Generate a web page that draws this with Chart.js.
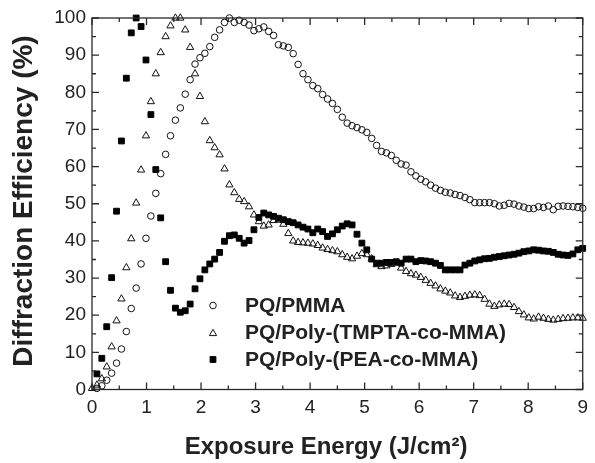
<!DOCTYPE html>
<html><head><meta charset="utf-8">
<script src="https://cdn.jsdelivr.net/npm/chart.js@4.4.0/dist/chart.umd.min.js"></script>
<style>html,body{margin:0;padding:0;background:#fff;}canvas{display:block;}</style>
</head><body>
<canvas id="c" width="595" height="463"></canvas>
<script>
// Exposure energy sampling grid (J/cm²)
const energy = [0, 0.09, 0.18, 0.27, 0.36, 0.45, 0.54, 0.63, 0.72, 0.81, 0.9, 0.99, 1.08, 1.17, 1.26, 1.35, 1.44, 1.53, 1.62, 1.71, 1.8, 1.89, 1.98, 2.07, 2.16, 2.25, 2.34, 2.43, 2.52, 2.61, 2.7, 2.79, 2.88, 2.97, 3.06, 3.15, 3.24, 3.33, 3.42, 3.51, 3.6, 3.69, 3.78, 3.87, 3.96, 4.05, 4.14, 4.23, 4.32, 4.41, 4.5, 4.59, 4.68, 4.77, 4.86, 4.95, 5.04, 5.13, 5.22, 5.31, 5.4, 5.49, 5.58, 5.67, 5.76, 5.85, 5.94, 6.03, 6.12, 6.21, 6.3, 6.39, 6.48, 6.57, 6.66, 6.75, 6.84, 6.93, 7.02, 7.11, 7.2, 7.29, 7.38, 7.47, 7.56, 7.65, 7.74, 7.83, 7.92, 8.01, 8.1, 8.19, 8.28, 8.37, 8.46, 8.55, 8.64, 8.73, 8.82, 8.91, 9.0];

// Diffraction efficiency (%) for each series, aligned with energy
const pmma = [null,
  0.3, 1.0, 2.5, 4.4, 7.1, 10.9, 15.6, 21.8, 27.3, 33.8,
  40.7, 46.7, 52.8, 58.1, 63.3, 68.3, 72.5, 75.8, 79.5, 83.4,
  87.6, 89.3, 90.5, 92.3, 94.8, 96.8, 98.8, 100.0, 98.8, 99.4,
  98.8, 98.1, 96.6, 97.1, 97.6, 96.4, 95.3, 92.8, 92.5, 92.1,
  90.4, 87.5, 85.0, 83.4, 81.8, 81.0, 79.4, 78.2, 77.0, 75.4,
  73.3, 71.7, 71.0, 70.5, 69.9, 69.2, 67.6, 65.7, 64.1, 63.7,
  63.0, 61.7, 60.7, 60.4, 58.6, 57.5, 56.6, 55.9, 55.0, 54.2,
  53.6, 53.1, 52.9, 52.5, 52.2, 51.7, 51.1, 50.3, 50.3, 50.3,
  50.3, 50.0, 49.4, 49.6, 50.1, 49.9, 49.4, 49.1, 48.7, 48.7,
  49.2, 49.0, 49.4, 48.4, 49.3, 49.4, 49.3, 49.2, 49.0, 48.8];

const tmpta = [0.3,
  1.2, 2.9, 6.1, 11.5, 18.5, 24.4, 32.8, 40.6, 50.2, 59.1,
  68.3, 77.5, 85.0, 90.7, 95.0, 97.9, 100.0, 100.0, 96.8, 92.1,
  85.0, 78.9, 72.1, 67.0, 65.1, 63.2, 59.4, 55.1, 53.0, 51.2,
  50.6, 49.2, 47.0, 45.2, 44.0, 44.3, 45.5, 45.6, 44.5, 42.0,
  40.0, 39.6, 39.5, 39.4, 39.2, 38.8, 38.1, 37.7, 37.4, 37.1,
  36.3, 35.6, 35.2, 35.9, 36.6, 36.3, 35.2, 33.6, 33.1, 33.3,
  33.7, 34.0, 32.7, 31.8, 31.2, 30.8, 30.2, 29.4, 28.6, 27.9,
  27.1, 26.5, 26.0, 25.2, 24.8, 25.1, 25.4, 25.5, 25.3, 24.3,
  23.0, 22.4, 22.8, 23.0, 22.9, 22.1, 21.0, 20.1, 19.3, 19.0,
  19.5, 19.2, 18.9, 18.7, 18.9, 19.1, 19.2, 19.3, 19.3, 19.2];

const pea = [null,
  4.2, 8.4, 16.9, 30.1, 48.0, 66.9, 83.8, 96.0, 100.0, 97.7,
  88.7, 74.0, 59.2, 46.2, 34.4, 26.7, 21.9, 20.8, 21.2, 23.0,
  27.1, 29.8, 32.2, 33.8, 35.1, 36.9, 39.9, 41.4, 41.6, 40.7,
  39.4, 40.1, 43.0, 46.3, 47.5, 47.0, 46.6, 46.1, 45.7, 45.2,
  44.9, 44.3, 43.7, 43.2, 42.2, 43.2, 42.5, 41.2, 41.9, 43.0,
  44.0, 44.6, 44.3, 41.8, 39.4, 37.6, 35.1, 34.0, 34.0, 34.2,
  34.2, 34.4, 34.0, 35.1, 35.1, 34.4, 34.7, 34.6, 34.4, 34.0,
  33.4, 32.2, 32.2, 32.2, 32.2, 33.5, 34.0, 34.6, 34.9, 35.2,
  35.3, 35.6, 35.8, 36.0, 36.2, 36.4, 36.7, 37.1, 37.3, 37.6,
  37.5, 37.3, 37.2, 36.9, 36.4, 36.2, 36.1, 36.5, 37.6, 38.0];

const seriesLabels = ['PQ/PMMA', 'PQ/Poly-(TMPTA-co-MMA)', 'PQ/Poly-(PEA-co-MMA)'];
const xTickValues = [0, 1, 2, 3, 4, 5, 6, 7, 8, 9];
const yTickValues = [0, 10, 20, 30, 40, 50, 60, 70, 80, 90, 100];
const xTitle = 'Exposure Energy (J/cm²)';
const yTitle = 'Diffraction Efficiency (%)';

function toPoints(vals) {
  const out = [];
  vals.forEach((v, i) => { if (v !== null) out.push({x: energy[i], y: v}); });
  return out;
}

const INK = '#222';
const FONT = '"Liberation Sans", Arial, sans-serif';

const framePlugin = {
  id: 'frame',
  afterDatasetsDraw(chart) {
    const ctx = chart.ctx, a = chart.chartArea;
    const xs = chart.scales.x, ys = chart.scales.y;
    ctx.save();
    ctx.strokeStyle = '#2a2a2a';
    ctx.lineWidth = 1.3;
    ctx.strokeRect(a.left, a.top, a.right - a.left, a.bottom - a.top);
    ctx.beginPath();
    const MAJ = 7, MIN = 4;
    xTickValues.forEach((v, i) => {
      const p = xs.getPixelForValue(v);
      ctx.moveTo(p, a.bottom); ctx.lineTo(p, a.bottom - MAJ);
      ctx.moveTo(p, a.top); ctx.lineTo(p, a.top + MAJ);
      if (i < xTickValues.length - 1) {
        const m = xs.getPixelForValue((v + xTickValues[i + 1]) / 2);
        ctx.moveTo(m, a.bottom); ctx.lineTo(m, a.bottom - MIN);
        ctx.moveTo(m, a.top); ctx.lineTo(m, a.top + MIN);
      }
    });
    yTickValues.forEach((v, i) => {
      const p = ys.getPixelForValue(v);
      ctx.moveTo(a.left, p); ctx.lineTo(a.left + MAJ, p);
      ctx.moveTo(a.right, p); ctx.lineTo(a.right - MAJ, p);
      if (i < yTickValues.length - 1) {
        const m = ys.getPixelForValue((v + yTickValues[i + 1]) / 2);
        ctx.moveTo(a.left, m); ctx.lineTo(a.left + MIN, m);
        ctx.moveTo(a.right, m); ctx.lineTo(a.right - MIN, m);
      }
    });
    ctx.stroke();
    ctx.restore();
  },
  afterDraw(chart) {
    const ctx = chart.ctx;
    ctx.save();
    ctx.fillStyle = INK;
    // axis titles
    ctx.font = 'bold 24px ' + FONT;
    ctx.textAlign = 'center';
    ctx.textBaseline = 'alphabetic';
    ctx.fillText(xTitle, 326, 454);
    ctx.save();
    ctx.translate(32, 201);
    ctx.rotate(-Math.PI / 2);
    ctx.font = 'bold 28px ' + FONT;
    ctx.fillText(yTitle, 0, 0);
    ctx.restore();
    // legend
    const rows = [305.5, 332.5, 359.5];
    ctx.font = 'bold 21px ' + FONT;
    ctx.textAlign = 'left';
    ctx.textBaseline = 'middle';
    chart.data.datasets.forEach((ds, i) => {
      ctx.save();
      ctx.lineWidth = ds.pointBorderWidth;
      ctx.strokeStyle = ds.pointBorderColor;
      ctx.fillStyle = ds.pointBackgroundColor;
      Chart.helpers.drawPoint(ctx, {pointStyle: ds.pointStyle, radius: ds.pointRadius, borderWidth: ds.pointBorderWidth, rotation: 0}, 213, rows[i] + (ds.pointStyle === 'triangle' ? 1 : 0));
      ctx.restore();
      ctx.fillText(ds.label, 245, rows[i] + 1);
    });
    ctx.restore();
  }
};

new Chart(document.getElementById('c'), {
  type: 'scatter',
  data: {
    datasets: [
      {label: seriesLabels[0], data: toPoints(pmma), pointStyle: 'circle', pointRadius: 3.3,
       pointBorderWidth: 1, pointBorderColor: '#111', pointBackgroundColor: 'rgba(0,0,0,0)', showLine: false, clip: false},
      {label: seriesLabels[1], data: toPoints(tmpta), pointStyle: 'triangle', pointRadius: 4.2,
       pointBorderWidth: 1, pointBorderColor: '#111', pointBackgroundColor: 'rgba(0,0,0,0)', showLine: false, clip: false},
      {label: seriesLabels[2], data: toPoints(pea), pointStyle: 'rect', pointRadius: 4.1,
       pointBorderWidth: 1, pointBorderColor: '#000', pointBackgroundColor: '#000', showLine: false, clip: false}
    ]
  },
  options: {
    responsive: false,
    animation: false,
    devicePixelRatio: 1,
    layout: {padding: {left: 0, right: 6, top: 18, bottom: 0}},
    plugins: {legend: {display: false}, tooltip: {enabled: false}},
    elements: {point: {hoverRadius: 4}},
    scales: {
      x: {
        type: 'linear', min: 0, max: 9,
        grid: {display: false, drawTicks: false},
        border: {display: false},
        ticks: {stepSize: 1, padding: 7, color: INK, font: {family: FONT, size: 19}, maxRotation: 0},
        afterFit(s) { s.height = 463 - 389.5; }
      },
      y: {
        type: 'linear', min: 0, max: 100,
        grid: {display: false, drawTicks: false},
        border: {display: false},
        ticks: {stepSize: 10, padding: 6, color: INK, font: {family: FONT, size: 19}},
        afterFit(s) { s.width = 92; }
      }
    }
  },
  plugins: [framePlugin]
});
</script>
</body></html>
